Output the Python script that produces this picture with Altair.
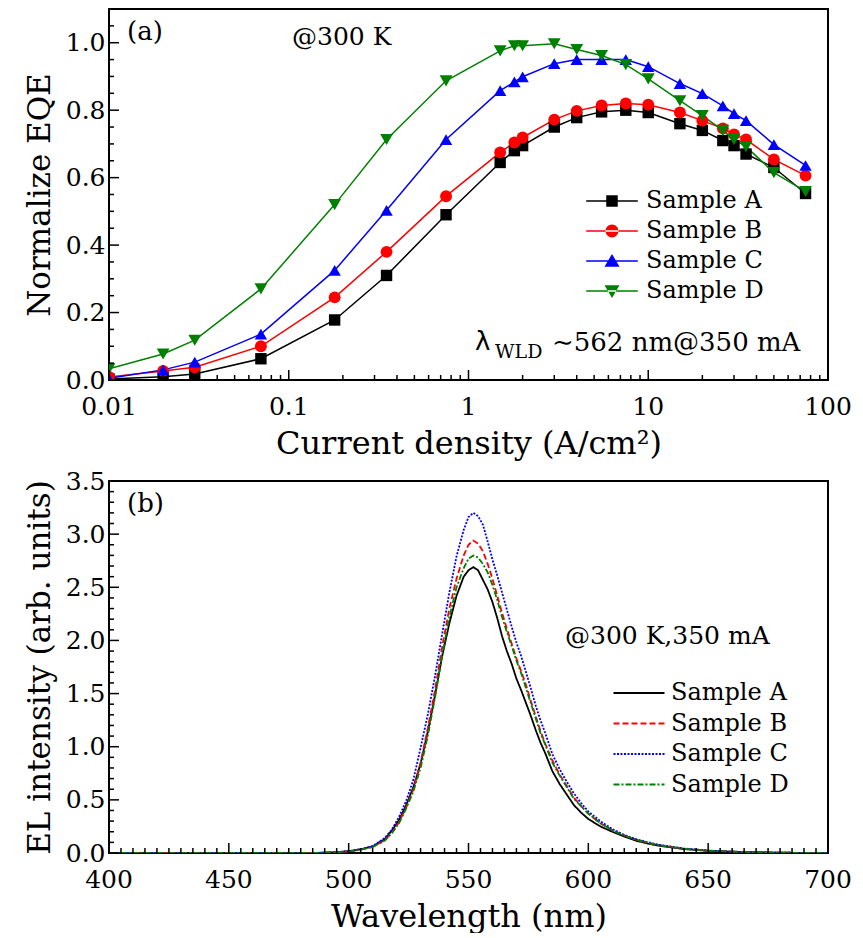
import altair as alt
import pandas as pd

# ---------------- data ----------------
samples = ["Sample A", "Sample B", "Sample C", "Sample D"]
colors = ["#000000", "#ff0000", "#0000ff", "#008000"]

# (a) normalized EQE vs current density
J = [0.01, 0.02, 0.03, 0.07, 0.18, 0.35, 0.75, 1.5, 1.8, 2.0, 3.0, 4.0, 5.5, 7.5,
     10, 15, 20, 26, 30, 35, 50, 75]
eqe_A = [0.003, 0.01, 0.018, 0.063, 0.178, 0.31, 0.49, 0.645, 0.68, 0.695, 0.75, 0.778,
         0.795, 0.80, 0.793, 0.76, 0.74, 0.71, 0.695, 0.67, 0.63, 0.553]
eqe_B = [0.009, 0.027, 0.038, 0.10, 0.245, 0.38, 0.545, 0.675, 0.704, 0.719, 0.772, 0.798,
         0.814, 0.82, 0.816, 0.793, 0.769, 0.746, 0.728, 0.713, 0.654, 0.606]
eqe_C = [0.005, 0.03, 0.053, 0.136, 0.325, 0.503, 0.713, 0.858, 0.884, 0.899, 0.938, 0.95,
         0.95, 0.95, 0.929, 0.879, 0.849, 0.813, 0.79, 0.769, 0.698, 0.636]
eqe_D = [0.033, 0.077, 0.118, 0.27, 0.52, 0.713, 0.887, 0.976, 0.991, 0.991, 0.997, 0.98,
         0.962, 0.935, 0.893, 0.828, 0.784, 0.74, 0.713, 0.692, 0.615, 0.559]

# (b) EL spectra
wl = [400, 410, 420, 430, 440, 450, 460, 470, 480,
      485, 490, 495, 500, 505, 510, 515,
      518, 521, 524, 527, 530, 533, 536, 539, 542, 545, 548,
      550, 552, 554, 556, 558, 560, 562, 564, 566, 568, 570, 572, 574, 576, 578, 580, 582,
      585, 588, 591, 594, 597, 600,
      605, 610, 615, 620, 625, 630,
      640, 650, 660, 670, 680, 690, 700]
el_A = [0, 0, 0, 0, 0, 0, 0, 0, 0,
        0.0, 0.003, 0.008, 0.017, 0.035, 0.062, 0.13,
        0.21, 0.31, 0.45, 0.62, 0.84, 1.14, 1.48, 1.85, 2.16, 2.42, 2.60,
        2.66, 2.69, 2.66, 2.57, 2.48, 2.36, 2.21, 2.04, 1.90, 1.78, 1.64, 1.53, 1.41, 1.29, 1.16, 1.04, 0.94,
        0.77, 0.65, 0.55, 0.45, 0.38, 0.32,
        0.25, 0.20, 0.155, 0.115, 0.088, 0.066,
        0.037, 0.02, 0.012, 0.006, 0.003, 0.001, 0.0]
el_B = [0, 0, 0, 0, 0, 0, 0, 0, 0,
        0.0, 0.003, 0.007, 0.015, 0.032, 0.058, 0.12,
        0.19, 0.29, 0.43, 0.60, 0.85, 1.17, 1.53, 1.94, 2.30, 2.58, 2.80,
        2.90, 2.94, 2.91, 2.84, 2.72, 2.58, 2.42, 2.26, 2.11, 1.97, 1.83, 1.71, 1.58, 1.43, 1.29, 1.15, 1.03,
        0.87, 0.74, 0.63, 0.52, 0.44, 0.37,
        0.28, 0.215, 0.165, 0.125, 0.095, 0.072,
        0.04, 0.022, 0.013, 0.007, 0.003, 0.001, 0.0]
el_C = [0, 0, 0, 0, 0, 0, 0, 0, 0,
        0.0, 0.003, 0.008, 0.017, 0.036, 0.065, 0.14,
        0.22, 0.34, 0.49, 0.69, 0.99, 1.30, 1.66, 2.06, 2.45, 2.79, 3.04,
        3.16, 3.20, 3.17, 3.09, 2.93, 2.76, 2.61, 2.45, 2.29, 2.13, 1.98, 1.85, 1.70, 1.55, 1.39, 1.25, 1.13,
        0.93, 0.79, 0.67, 0.56, 0.47, 0.39,
        0.30, 0.225, 0.17, 0.13, 0.10, 0.075,
        0.042, 0.023, 0.013, 0.007, 0.003, 0.001, 0.0]
el_D = [0, 0, 0, 0, 0, 0, 0, 0, 0,
        0.0, 0.003, 0.007, 0.015, 0.031, 0.056, 0.115,
        0.185, 0.28, 0.42, 0.58, 0.80, 1.10, 1.46, 1.86, 2.22, 2.50, 2.68,
        2.77, 2.80, 2.78, 2.72, 2.64, 2.52, 2.38, 2.22, 2.08, 1.95, 1.81, 1.69, 1.55, 1.41, 1.27, 1.13, 1.02,
        0.85, 0.73, 0.62, 0.51, 0.44, 0.37,
        0.28, 0.215, 0.165, 0.125, 0.095, 0.072,
        0.04, 0.022, 0.013, 0.007, 0.003, 0.001, 0.0]

# tick values and labels
top_x_major = [0.01, 0.1, 1, 10, 100]
top_x_labels = ["0.01", "0.1", "1", "10", "100"]
top_x_minor = [m * 10.0 ** e for e in range(-2, 2) for m in range(2, 10)]
top_y_major = [0.0, 0.2, 0.4, 0.6, 0.8, 1.0]
top_y_minor = [0.05, 0.1, 0.15, 0.25, 0.3, 0.35, 0.45, 0.5, 0.55, 0.65, 0.7, 0.75,
               0.85, 0.9, 0.95, 1.05]
bot_x_major = [400, 450, 500, 550, 600, 650, 700]
bot_x_labels = ["400", "450", "500", "550", "600", "650", "700"]
bot_x_minor = [v for v in range(405, 700, 5) if v % 50 != 0]
bot_y_major = [0.0, 0.5, 1.0, 1.5, 2.0, 2.5, 3.0, 3.5]
bot_y_minor = [round(0.1 * i, 1) for i in range(1, 35) if i % 5 != 0]

notes_top = ["(a)", "@300 K", "λ", "WLD", "∼562 nm@350 mA"]
notes_bot = ["(b)", "@300 K,350 mA"]

# ---------------- tables ----------------
eqe = [eqe_A, eqe_B, eqe_C, eqe_D]
df_top = pd.DataFrame([
    {"J": j, "EQE": v, "sample": s}
    for s, vals in zip(samples, eqe) for j, v in zip(J, vals)
])
els = [el_A, el_B, el_C, el_D]
df_bot = pd.DataFrame([
    {"wl": w, "I": v, "sample": s}
    for s, vals in zip(samples, els) for w, v in zip(wl, vals)
])

SERIF = "DejaVu Serif"
W = 719
H1 = 371
H2 = 372

# ---------------- helpers ----------------
def xticks(vals, length, scale, H, axis):
    return alt.Chart(pd.DataFrame({"v": vals})).mark_rule(color="black", strokeWidth=1.5).encode(
        x=alt.X("v:Q", scale=scale, axis=axis),
        y=alt.value(H), y2=alt.value(H - length))

def xlabels(vals, labels, scale, H, axis):
    return alt.Chart(pd.DataFrame({"v": vals, "lab": labels})).mark_text(
        align="center", baseline="top", fontSize=25, font=SERIF, color="black"
    ).encode(x=alt.X("v:Q", scale=scale, axis=axis), y=alt.value(H + 15), text="lab:N")

def yticks(vals, length, scale, axis):
    return alt.Chart(pd.DataFrame({"v": vals})).mark_rule(color="black", strokeWidth=1.5).encode(
        y=alt.Y("v:Q", scale=scale, axis=axis),
        x=alt.value(0), x2=alt.value(length))

def note(text, x, y, size, font=SERIF):
    return alt.Chart(pd.DataFrame({"t": [text]})).mark_text(
        align="left", baseline="middle", fontSize=size, font=font, color="black"
    ).encode(x=alt.value(x), y=alt.value(y), text="t:N")

def legend_props(**kw):
    base = dict(orient="none", title=None, padding=0, labelFontSize=24,
                labelFont=SERIF, labelColor="black", rowPadding=6)
    base.update(kw)
    return alt.Legend(**base)

# ---------------- panel (a) ----------------
xs_top = alt.Scale(type="log", domain=[0.01, 100], nice=False)
ys_top = alt.Scale(domain=[0, 1.1], nice=False, zero=False)
cscale = alt.Scale(domain=samples, range=colors)

x_axis_top = alt.Axis(values=top_x_major, labels=False, ticks=False, domain=False, grid=False,
                      titlePadding=48, titleFontSize=32,
                      title="Current density (A/cm²)")
y_axis_top = alt.Axis(values=top_y_major, format=".1f", ticks=False, domain=False, grid=False,
                      labelPadding=4, titlePadding=9, title="Normalize EQE")

lines_top = alt.Chart(df_top).mark_line(strokeWidth=1.5, clip=True).encode(
    x=alt.X("J:Q", scale=xs_top, axis=x_axis_top),
    y=alt.Y("EQE:Q", scale=ys_top, axis=y_axis_top),
    color=alt.Color("sample:N", scale=cscale, legend=None),
    detail="sample:N",
)
points_top = alt.Chart(df_top).mark_point(filled=True, opacity=1, clip=True).encode(
    x=alt.X("J:Q", scale=xs_top, axis=x_axis_top),
    y=alt.Y("EQE:Q", scale=ys_top, axis=y_axis_top),
    color=alt.Color("sample:N", scale=cscale, legend=None),
    shape=alt.Shape("sample:N", scale=alt.Scale(domain=samples,
                    range=["square", "circle", "triangle-up", "triangle-down"]), legend=None),
    size=alt.Size("sample:N", scale=alt.Scale(domain=samples, range=[130, 165, 200, 200]),
                  legend=None),
)

LINE = "M-4.3,-0.13H4.3V0.13H-4.3Z"
leg_paths = [
    LINE + "M-0.96,-0.96H0.96V0.96H-0.96Z",
    LINE + "M-1.08,0A1.08,1.08 0 1,0 1.08,0A1.08,1.08 0 1,0 -1.08,0Z",
    LINE + "M0,-1.15L1.25,0.95L-1.25,0.95Z",
    LINE + "M0,1.15L1.25,-0.95L-1.25,-0.95Z",
]
top_leg = dict(legendX=491, legendY=180, symbolSize=144, symbolStrokeWidth=0, labelOffset=22)
legend_top = alt.Chart(df_top).transform_filter("false").mark_point(filled=True, opacity=1).encode(
    color=alt.Color("sample:N", scale=cscale, legend=legend_props(**top_leg)),
    shape=alt.Shape("sample:N", scale=alt.Scale(domain=samples, range=leg_paths),
                    legend=legend_props(**top_leg)),
)

top = alt.layer(
    lines_top,
    points_top,
    xticks(top_x_major, 10, xs_top, H1, x_axis_top),
    xticks(top_x_minor, 5, xs_top, H1, x_axis_top),
    xlabels(top_x_major, top_x_labels, xs_top, H1, x_axis_top),
    yticks(top_y_major, 10, ys_top, y_axis_top),
    yticks(top_y_minor, 5, ys_top, y_axis_top),
    legend_top,
    note(notes_top[0], 18, 23, 26),
    note(notes_top[1], 183, 28, 25),
    note(notes_top[2], 366, 333, 26, font="DejaVu Sans"),
    note(notes_top[3], 386, 343, 19),
    note(notes_top[4], 443, 334, 26),
).resolve_scale(color="independent", shape="independent", size="independent").properties(
    width=W, height=H1)

# ---------------- panel (b) ----------------
xs_bot = alt.Scale(domain=[400, 700], nice=False, zero=False)
ys_bot = alt.Scale(domain=[0, 3.5], nice=False, zero=False)

x_axis_bot = alt.Axis(values=bot_x_major, labels=False, ticks=False, domain=False, grid=False,
                      titlePadding=48, titleFontSize=32,
                      title="Wavelength (nm)")
y_axis_bot = alt.Axis(values=bot_y_major, format=".1f", ticks=False, domain=False, grid=False,
                      labelPadding=4, titlePadding=9, title="EL intensity (arb. units)")

bot_leg = dict(legendX=518, legendY=200, symbolType="M-4.25,0H4.25", symbolSize=144,
               symbolStrokeWidth=2, labelOffset=20, rowPadding=6.5)
lines_bot = alt.Chart(df_bot).mark_line(strokeWidth=1.8, clip=True).encode(
    x=alt.X("wl:Q", scale=xs_bot, axis=x_axis_bot),
    y=alt.Y("I:Q", scale=ys_bot, axis=y_axis_bot),
    color=alt.Color("sample:N", scale=cscale, legend=legend_props(**bot_leg)),
    strokeDash=alt.StrokeDash("sample:N",
                              scale=alt.Scale(domain=samples,
                                              range=[[1, 0], [6, 3], [2, 1.5], [6, 2, 2, 2]]),
                              legend=legend_props(**bot_leg)),
)

bottom = alt.layer(
    lines_bot,
    xticks(bot_x_major, 10, xs_bot, H2, x_axis_bot),
    xticks(bot_x_minor, 5, xs_bot, H2, x_axis_bot),
    xlabels(bot_x_major, bot_x_labels, xs_bot, H2, x_axis_bot),
    yticks(bot_y_major, 10, ys_bot, y_axis_bot),
    yticks(bot_y_minor, 5, ys_bot, y_axis_bot),
    note(notes_bot[0], 18, 23, 26),
    note(notes_bot[1], 456, 155, 25),
).properties(width=W, height=H2)

chart = alt.vconcat(top, bottom, spacing=8).resolve_scale(
    color="independent", shape="independent", size="independent", strokeDash="independent"
).properties(
    padding={"left": 15, "top": 0, "right": 2, "bottom": 0}
).configure_view(
    stroke="black", strokeWidth=2
).configure_axis(
    labelFont=SERIF, titleFont=SERIF, labelFontSize=25, titleFontSize=31,
    titleFontWeight="normal", labelColor="black", titleColor="black"
).configure_legend(
    labelFont=SERIF, labelColor="black"
)

chart.save("out.html", embed_options={"renderer": "svg", "actions": False})
